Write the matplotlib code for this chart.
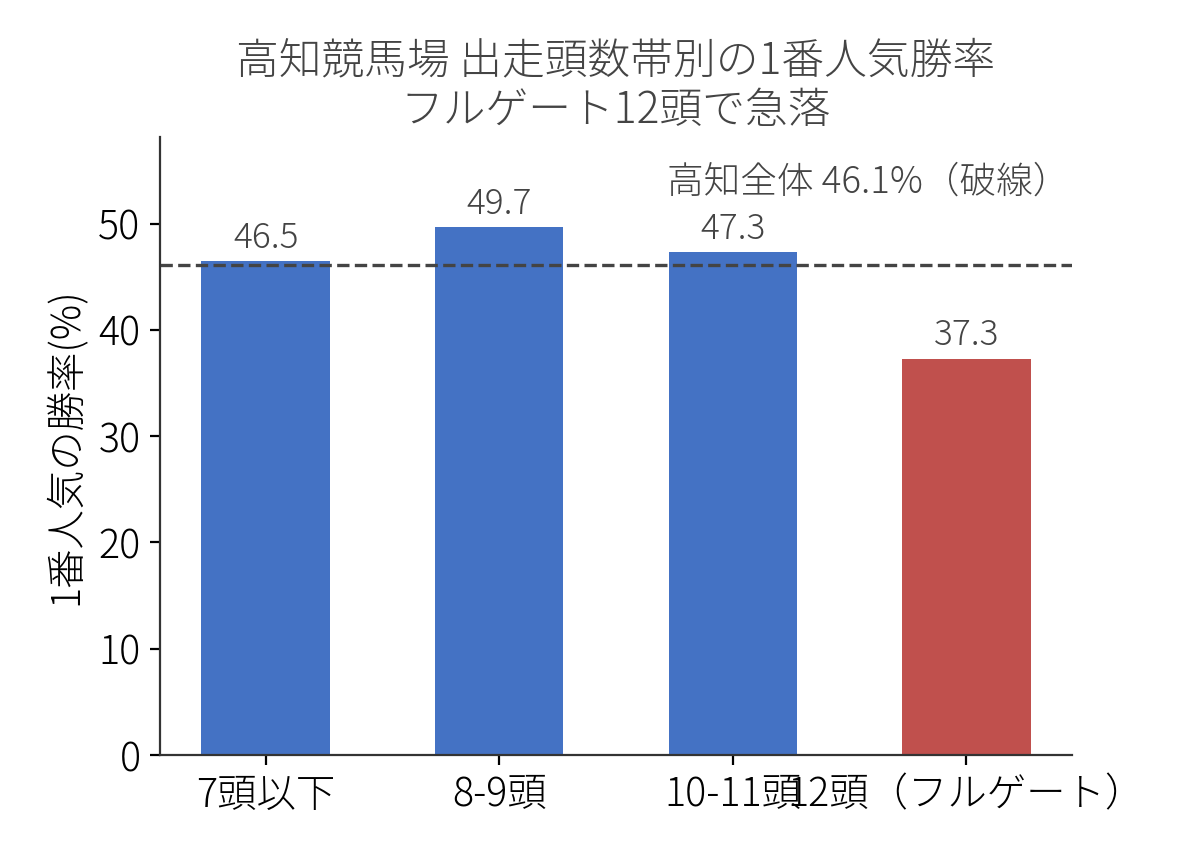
import matplotlib
matplotlib.use("Agg")
import matplotlib.pyplot as plt

plt.rcParams['font.family'] = ['Noto Sans CJK JP', 'DejaVu Sans']
plt.rcParams['font.weight'] = 'light'
plt.rcParams['axes.titleweight'] = 'light'
plt.rcParams['axes.labelweight'] = 'light'

categories = ["7頭以下", "8-9頭", "10-11頭", "12頭（フルゲート）"]
win_rates = [46.5, 49.7, 47.3, 37.3]
overall_rate = 46.1
bar_colors = ["#4472C4", "#4472C4", "#4472C4", "#C0504D"]
title = "高知競馬場 出走頭数帯別の1番人気勝率\nフルゲート12頭で急落"
ylabel = "1番人気の勝率(%)"
ref_label = "高知全体 46.1%（破線）"

fig = plt.figure(figsize=(5.94, 4.29), dpi=200)
ax = fig.add_axes([0.1347, 0.12, 0.7677, 0.7203])

x = list(range(len(categories)))
ax.bar(x, win_rates, width=0.55, color=bar_colors)
ax.axhline(overall_rate, color="#444444", linestyle="--", linewidth=1.2)

for xi, v in zip(x, win_rates):
    ax.text(xi, v + 0.5, f"{v:.1f}", ha="center", va="bottom", fontsize=12.7, color="#444444")

ax.text(1.72, 53.9, ref_label, ha="left", va="center", fontsize=13.2, color="#444444")

ax.set_xticks(x)
ax.set_xticklabels(categories, fontsize=14.2)
ax.tick_params(axis="y", labelsize=14.2)
ax.set_ylim(0, 49.7 * 1.17)
ax.set_ylabel(ylabel, fontsize=14.2)
ax.set_title(title, fontsize=15.4, color="#444444", pad=5, linespacing=1.15)

for s in ["top", "right"]:
    ax.spines[s].set_visible(False)
for s in ["left", "bottom"]:
    ax.spines[s].set_color("#333333")

fig.savefig("out.png", dpi=200)
